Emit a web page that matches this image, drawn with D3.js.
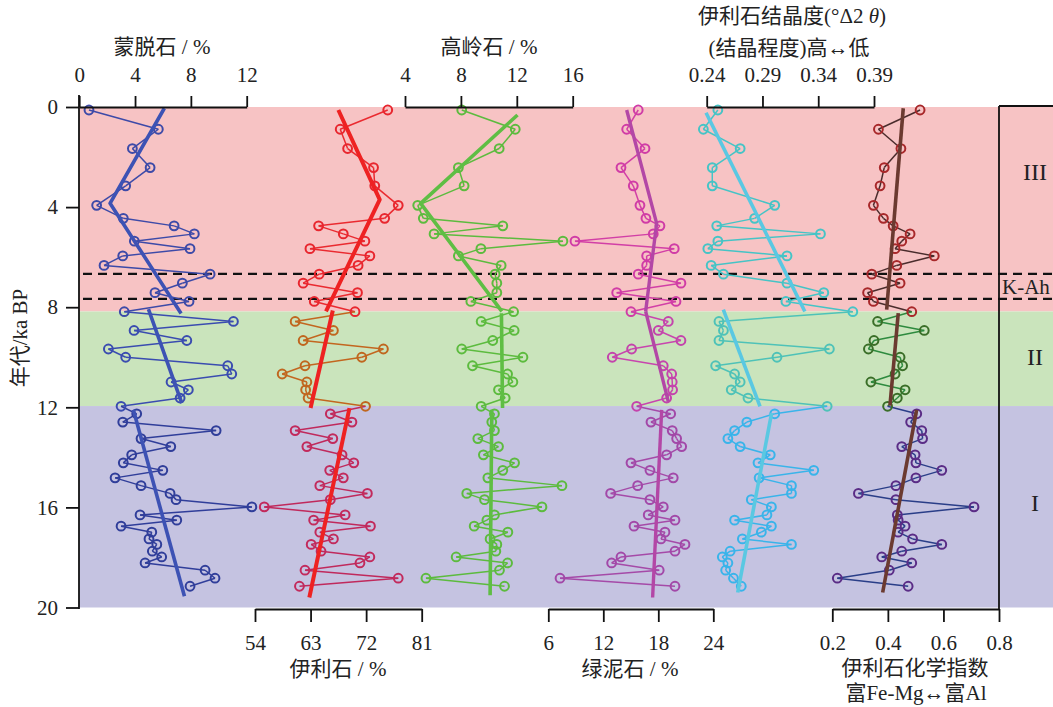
<!DOCTYPE html>
<html><head><meta charset="utf-8">
<script src="https://cdn.jsdelivr.net/npm/d3@7"></script>
<style>
body{margin:0;background:#fff;}
svg{display:block;}
text{font-family:"Liberation Serif","Noto Sans CJK SC",serif;fill:#222;}
</style>
</head><body>
<svg id="chart" width="1053" height="707"></svg>
<script>
// ---------------- data ----------------
const ages = [0.12,0.89,1.66,2.42,3.15,3.93,4.45,4.75,5.07,5.36,5.66,5.95,6.33,6.68,7.04,7.42,7.77,8.18,
  8.57,8.93,9.33,9.67,10.0,10.34,10.67,10.99,11.3,11.63,11.96,
  12.26,12.59,12.93,13.25,13.57,13.9,14.22,14.52,14.82,15.13,15.44,15.69,15.98,16.3,16.51,16.75,16.99,17.26,17.48,17.75,17.98,18.22,18.51,18.83,19.15];
const zoneNames = ["III","II","I"];
const samplesPerZone = [18, 11, 25];

const smectite = [0.70,5.67,3.81,5.08,3.33,1.25,3.16,6.80,8.25,3.95,7.94,3.12,1.78,9.38,7.39,5.43,7.87,3.23,
  11.05,3.93,7.71,2.09,3.33,10.64,10.93,6.58,7.82,7.23,3.0,
  4.12,3.12,9.81,4.43,6.56,3.76,3.16,5.99,2.57,4.43,6.51,6.94,12.37,4.36,6.99,3.0,5.2,5.0,5.56,5.24,5.91,4.72,9.02,9.73,7.94];
const illite = [75.5,67.8,69.0,73.2,73.4,77.2,75.0,64.3,68.3,71.8,62.9,72.6,70.7,64.4,61.8,70.6,63.6,70.2,
  60.5,66.7,61.8,74.8,71.3,62.1,58.4,62.4,62.2,62.6,71.9,
  66.2,69.7,60.5,66.6,62.4,68.1,70.0,66.1,68.3,64.5,72.2,66.2,55.5,68.6,63.5,72.7,64.5,66.7,63.1,64.7,72.6,71.0,62.1,77.2,61.2];
const kaolinite = [8.06,11.89,10.74,7.82,8.23,4.91,5.31,11.0,6.08,15.3,9.43,7.82,10.88,10.45,10.57,10.57,8.71,11.77,
  9.45,11.81,10.28,8.06,12.44,8.83,11.34,11.72,10.69,11.17,9.45,
  10.4,10.21,10.4,9.21,10.69,9.61,11.84,11.0,9.93,15.23,8.42,9.69,13.8,10.4,9.86,8.95,11.36,10.09,10.57,10.5,7.66,11.34,10.76,5.5,11.12];
const chlorite = [15.81,14.55,16.55,13.93,15.27,16.0,16.65,18.18,17.45,8.91,19.74,16.73,16.73,15.81,20.47,13.46,19.93,15.02,
  19.09,18.0,20.47,15.09,12.98,18.54,19.46,19.52,19.56,18.91,15.64,
  19.35,17.2,19.52,20.0,20.55,18.91,15.02,17.09,19.63,15.75,12.8,17.09,18.54,16.9,19.82,15.35,18.73,18.29,20.91,19.82,13.93,12.91,18.1,7.28,19.82];
const crystallinity = [0.250,0.237,0.270,0.245,0.245,0.301,0.283,0.249,0.342,0.250,0.241,0.312,0.244,0.255,0.312,0.345,0.311,0.371,
  0.251,0.255,0.251,0.350,0.303,0.248,0.265,0.270,0.262,0.277,0.348,
  0.301,0.276,0.265,0.259,0.270,0.297,0.286,0.336,0.287,0.316,0.316,0.280,0.298,0.294,0.265,0.298,0.289,0.272,0.316,0.261,0.254,0.259,0.257,0.264,0.271];
const chemIndex = [0.516,0.366,0.447,0.387,0.372,0.348,0.384,0.419,0.480,0.450,0.426,0.567,0.432,0.342,0.444,0.327,0.348,0.486,
  0.363,0.531,0.350,0.330,0.444,0.453,0.426,0.339,0.462,0.434,0.399,
  0.504,0.482,0.522,0.525,0.450,0.498,0.501,0.594,0.501,0.429,0.294,0.429,0.710,0.434,0.437,0.462,0.437,0.489,0.594,0.450,0.378,0.486,0.405,0.218,0.473];

// trend lines: [value, age] per zone
const smectiteTrend = {III:[[6.1,0.05],[2.21,3.85],[7.3,8.25]], II:[[4.96,8.08],[7.35,11.83]], I:[[3.88,12.1],[7.54,19.55]]};
const illiteTrend = {III:[[67.5,0.12],[74.2,3.7],[65.5,8.17]], II:[[66.6,8.13],[63.0,12.03]], I:[[69.3,12.03],[62.8,19.6]]};
const kaoliniteTrend = {III:[[12.05,0.32],[5.12,3.85],[10.93,8.17]], II:[[10.9,8.24],[10.98,12.03]], I:[[10.21,12.1],[10.09,19.51]]};
const chloriteTrend = {III:[[14.55,0.12],[17.82,4.65],[16.62,8.17]], II:[[16.62,8.17],[19.09,11.77]], I:[[18.37,12.1],[17.38,19.6]]};
const crystTrend = {III:[[0.2394,0.23],[0.328,8.17]], II:[[0.2549,8.1],[0.2878,11.96]], I:[[0.2982,12.23],[0.2678,19.4]]};
const chemTrend = {III:[[0.4554,0.05],[0.3957,8.1]], II:[[0.4374,8.24],[0.4075,11.93]], I:[[0.5036,12.1],[0.3813,19.4]]};

const zoneBands = [{name:"III",from:0,to:8.17,labelAge:2.58},{name:"II",from:8.17,to:11.95,labelAge:9.97},{name:"I",from:11.95,to:20,labelAge:15.8}];
const kAhBounds = [6.67, 7.67];
const kAhLabel = {text:"K-Ah", age:7.16};

const ageTicks = [0,4,8,12,16,20];
const smectiteTicks = [0,4,8,12];
const kaoliniteTicks = [4,8,12,16];
const crystTicks = [0.24,0.29,0.34,0.39];
const illiteTicks = [54,63,72,81];
const chloriteTicks = [6,12,18,24];
const chemTicks = [0.2,0.4,0.6,0.8];

// ---------------- scales ----------------
const svg = d3.select("#chart");
const y = d3.scaleLinear().domain([0,20]).range([107,607.5]);
const xSmectite = d3.scaleLinear().domain([0,12]).range([79.2,246.7]);
const xIllite = d3.scaleLinear().domain([54,81]).range([255,421.7]);
const xKaolinite = d3.scaleLinear().domain([4,16]).range([405,572.7]);
const xChlorite = d3.scaleLinear().domain([6,24]).range([548.3,713.3]);
const xCryst = d3.scaleLinear().domain([0.24,0.39]).range([706.7,874]);
const xChem = d3.scaleLinear().domain([0.2,0.8]).range([832.3,999]);
const xLeft = 79, xRight = 1053;

const bandColors = {III:"#f7c3c4", II:"#cae4bc", I:"#c5c3e1"};

// bands
svg.append("g").selectAll("rect").data(zoneBands).join("rect")
  .attr("x", xLeft).attr("width", xRight - xLeft)
  .attr("y", d => y(d.from)).attr("height", d => y(d.to) - y(d.from))
  .attr("fill", d => bandColors[d.name]);

// K-Ah dashed lines
svg.append("g").selectAll("line").data(kAhBounds).join("line")
  .attr("x1", 83).attr("x2", xRight)
  .attr("y1", d => y(d)).attr("y2", d => y(d))
  .attr("stroke", "#111").attr("stroke-width", 2.2).attr("stroke-dasharray", "9,6");

// ---------------- series ----------------
function zoneOf(i){
  let acc = 0;
  for (let k=0;k<samplesPerZone.length;k++){ acc += samplesPerZone[k]; if (i < acc) return zoneNames[k]; }
  return zoneNames[zoneNames.length-1];
}
function drawSeries(values, xs, lineColors, markerColors, trend, trendColor, trendWidth){
  const g = svg.append("g");
  const pts = values.map((v,i)=>({x:xs(v), y:y(ages[i]), z:zoneOf(i)}));
  const segs = pts.slice(1).map((p,i)=>({a:pts[i], b:p}));
  g.selectAll("line.seg").data(segs).join("line").attr("class","seg")
    .attr("x1", d=>d.a.x).attr("y1", d=>d.a.y).attr("x2", d=>d.b.x).attr("y2", d=>d.b.y)
    .attr("stroke", d=>lineColors[d.b.z]).attr("stroke-width", 1.5);
  g.selectAll("circle").data(pts).join("circle")
    .attr("cx", d=>d.x).attr("cy", d=>d.y).attr("r", 4.4)
    .attr("fill","none").attr("stroke", d=>markerColors[d.z]).attr("stroke-width", 2);
  const line = d3.line().x(d=>xs(d[0])).y(d=>y(d[1]));
  zoneNames.forEach(z=>{
    g.append("path").attr("d", line(trend[z])).attr("fill","none")
      .attr("stroke", trendColor).attr("stroke-width", trendWidth).attr("stroke-linejoin","round");
  });
}
const blueC = {III:"#3d4aa8", II:"#3a4cb0", I:"#303e9a"};
drawSeries(smectite, xSmectite, blueC, blueC, smectiteTrend, "#3d52b4", 3.6);
drawSeries(illite, xIllite, {III:"#ea2a30",II:"#c3661f",I:"#c0295c"}, {III:"#e8262e",II:"#c0661e",I:"#c22a5c"}, illiteTrend, "#ee2222", 4);
const greenC = {III:"#5cbb3e", II:"#5cbb3e", I:"#5cbb3e"};
drawSeries(kaolinite, xKaolinite, greenC, greenC, kaoliniteTrend, "#5fbe44", 3.6);
drawSeries(chlorite, xChlorite, {III:"#d23fa6",II:"#c845ae",I:"#a54aa8"}, {III:"#d03ca6",II:"#c443ac",I:"#a248a8"}, chloriteTrend, "#b347a6", 3.4);
drawSeries(crystallinity, xCryst, {III:"#45c4c6",II:"#4ec2b8",I:"#39b4ea"}, {III:"#45c4c6",II:"#4ec2b8",I:"#39b4ea"}, crystTrend, "#5ac8e2", 3.6);
drawSeries(chemIndex, xChem, {III:"#4a2c2c",II:"#2d8a3e",I:"#2a3e88"}, {III:"#a8282a",II:"#3a6e28",I:"#5a2c86"}, chemTrend, "#6b3a30", 3.6);

// ---------------- axes ----------------
function styleAxis(g, fs){
  g.selectAll("path.domain").attr("stroke","#111").attr("stroke-width",1.8);
  g.selectAll(".tick line").attr("stroke","#111").attr("stroke-width",1.8);
  g.selectAll(".tick text").attr("fill","#222").style("font-size", fs+"px")
    .style("font-family",'"Liberation Serif",serif');
}
function topAxis(scale, ticks, fmt){
  const g = svg.append("g").attr("transform","translate(0,107)")
    .call(d3.axisTop(scale).tickValues(ticks).tickFormat(fmt).tickSize(11).tickSizeOuter(0).tickPadding(14));
  styleAxis(g, 21);
}
function bottomAxis(scale, ticks, fmt){
  const g = svg.append("g").attr("transform","translate(0,609)")
    .call(d3.axisBottom(scale).tickValues(ticks).tickFormat(fmt).tickSize(13).tickSizeOuter(0).tickPadding(13));
  styleAxis(g, 21);
}
topAxis(xSmectite, smectiteTicks, d3.format("d"));
topAxis(xKaolinite, kaoliniteTicks, d3.format("d"));
topAxis(xCryst, crystTicks, d3.format(".2f"));
bottomAxis(xIllite, illiteTicks, d3.format("d"));
bottomAxis(xChlorite, chloriteTicks, d3.format("d"));
bottomAxis(xChem, chemTicks, d3.format(".1f"));

const gl = svg.append("g").attr("transform",`translate(${xLeft},0)`)
  .call(d3.axisLeft(y).tickValues(ageTicks).tickSize(13).tickPadding(8));
gl.select("path.domain").remove();
styleAxis(gl, 21);
svg.append("line").attr("x1",xLeft).attr("x2",xLeft).attr("y1",95).attr("y2",609)
  .attr("stroke","#111").attr("stroke-width",1.8);

// right zone box
svg.append("line").attr("x1",999).attr("x2",999).attr("y1",106).attr("y2",609).attr("stroke","#111").attr("stroke-width",1.8);
svg.append("line").attr("x1",999).attr("x2",xRight).attr("y1",106).attr("y2",106).attr("stroke","#111").attr("stroke-width",1.8);
svg.append("g").selectAll("text").data(zoneBands).join("text")
  .attr("x",1035).attr("y",d=>y(d.labelAge)).attr("dy","0.35em").attr("text-anchor","middle")
  .style("font-size","24px").style("font-family",'"Liberation Serif",serif').text(d=>d.name);
svg.append("text").attr("x",1002).attr("y",y(kAhLabel.age)).attr("dy","0.35em")
  .style("font-size","21px").style("font-family",'"Liberation Serif",serif').text(kAhLabel.text);

// ---------------- titles ----------------
function title(x, yy, txt, fs){
  return svg.append("text").attr("x",x).attr("y",yy).attr("dy","0.35em").attr("text-anchor","middle")
    .style("font-size",(fs||21)+"px").text(txt);
}
title(162, 47, "蒙脱石 / %");
title(489, 47, "高岭石 / %");
const t1 = svg.append("text").attr("x",792).attr("y",16).attr("dy","0.35em").attr("text-anchor","middle").style("font-size","21px");
t1.append("tspan").text("伊利石结晶度(°Δ2 ");
t1.append("tspan").style("font-style","italic").text("θ");
t1.append("tspan").text(")");
title(789, 48, "(结晶程度)高↔低");
title(338, 669, "伊利石 / %");
title(630, 669, "绿泥石 / %");
title(915, 668, "伊利石化学指数");
title(916, 693, "富Fe-Mg↔富Al");
svg.append("text").attr("transform","translate(20,338) rotate(-90)").attr("text-anchor","middle")
  .attr("dy","0.35em").style("font-size","21px").text("年代/ka BP");
</script>
</body></html>
